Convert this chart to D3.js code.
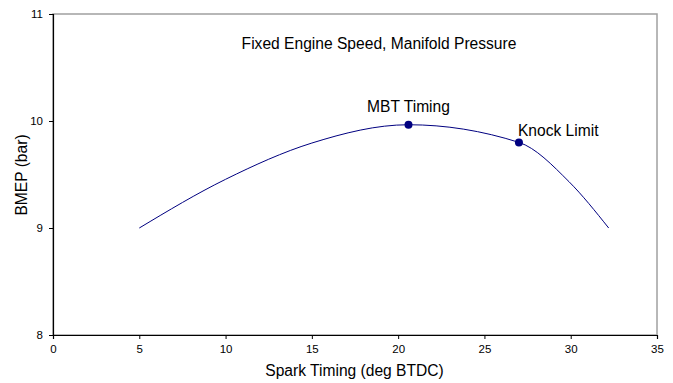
<!DOCTYPE html>
<html>
<head>
<meta charset="utf-8">
<script src="https://cdn.jsdelivr.net/npm/d3@7"></script>
<style>
  body { margin: 0; background: #fff; }
  text { font-family: "Liberation Sans", Arial, sans-serif; fill: #000; }
</style>
</head>
<body>
<svg width="673" height="383"></svg>
<script>
// curve
const sparkTiming = [5, 10, 15, 20.6, 27.0, 29.9, 32.2];
const bmep = [9.0, 9.455, 9.794, 9.965, 9.80, 9.433, 9.0];

// marked points
const markNames = ["MBT Timing", "Knock Limit"];
const markX = [20.6, 27.0];
const markY = [9.965, 9.80];

const xTicks = [0, 5, 10, 15, 20, 25, 30, 35];
const yTicks = [8, 9, 10, 11];

const margin = { top: 14, right: 16, bottom: 48, left: 53 };
const width = 673, height = 383;

const svg = d3.select("svg");

const x = d3.scaleLinear().domain([0, 35]).range([margin.left, width - margin.right]);
const y = d3.scaleLinear().domain([8, 11]).range([height - margin.bottom, margin.top]);

// plot frame (gray top/right)
svg.append("rect")
    .attr("x", x(0))
    .attr("y", y(11))
    .attr("width", x(35) - x(0))
    .attr("height", y(8) - y(11))
    .style("fill", "none")
    .style("stroke", "#a0a0a0")
    .style("stroke-width", 1.5);

// axes
const xAxis = svg.append("g")
    .attr("transform", `translate(0,${y(8)})`)
    .call(d3.axisBottom(x).tickValues(xTicks).tickSize(4).tickPadding(6).tickFormat(d3.format("d")));

const yAxis = svg.append("g")
    .attr("transform", `translate(${x(0)},0)`)
    .call(d3.axisLeft(y).tickValues(yTicks).tickSize(4).tickPadding(6).tickFormat(d3.format("d")));

[xAxis, yAxis].forEach(g => {
    g.select(".domain").style("stroke", "#000").style("stroke-width", 1.2);
    g.selectAll(".tick line").style("stroke", "#000");
    g.selectAll(".tick text").style("font-size", "11.5px").style("font-family", "Liberation Sans, Arial, sans-serif");
});

// the curve
const pts = sparkTiming.map((v, i) => [v, bmep[i]]);
svg.append("path")
    .datum(pts)
    .attr("d", d3.line()
        .x(d => x(d[0]))
        .y(d => y(d[1]))
        .curve(d3.curveMonotoneX))
    .style("fill", "none")
    .style("stroke", "#000080")
    .style("stroke-width", 1);

// markers
svg.selectAll(".mark")
    .data(markX)
    .enter()
    .append("circle")
    .attr("cx", d => x(d))
    .attr("cy", (d, i) => y(markY[i]))
    .attr("r", 4)
    .style("fill", "#000080");

// labels
svg.append("text")
    .attr("x", x(markX[0]))
    .attr("y", y(markY[0]) - 13)
    .attr("text-anchor", "middle")
    .style("font-size", "15.6px")
    .text(markNames[0]);

svg.append("text")
    .attr("x", x(markX[1]) - 1)
    .attr("y", y(markY[1]) - 6)
    .attr("text-anchor", "start")
    .style("font-size", "15.6px")
    .text(markNames[1]);

svg.append("text")
    .attr("x", 379)
    .attr("y", 48.5)
    .attr("text-anchor", "middle")
    .style("font-size", "15.6px")
    .text("Fixed Engine Speed, Manifold Pressure");

// axis titles
svg.append("text")
    .attr("x", 354.5)
    .attr("y", 376)
    .attr("text-anchor", "middle")
    .style("font-size", "15.6px")
    .text("Spark Timing (deg BTDC)");

svg.append("text")
    .attr("transform", `translate(27,175) rotate(-90)`)
    .attr("text-anchor", "middle")
    .style("font-size", "15.6px")
    .text("BMEP (bar)");
</script>
</body>
</html>
